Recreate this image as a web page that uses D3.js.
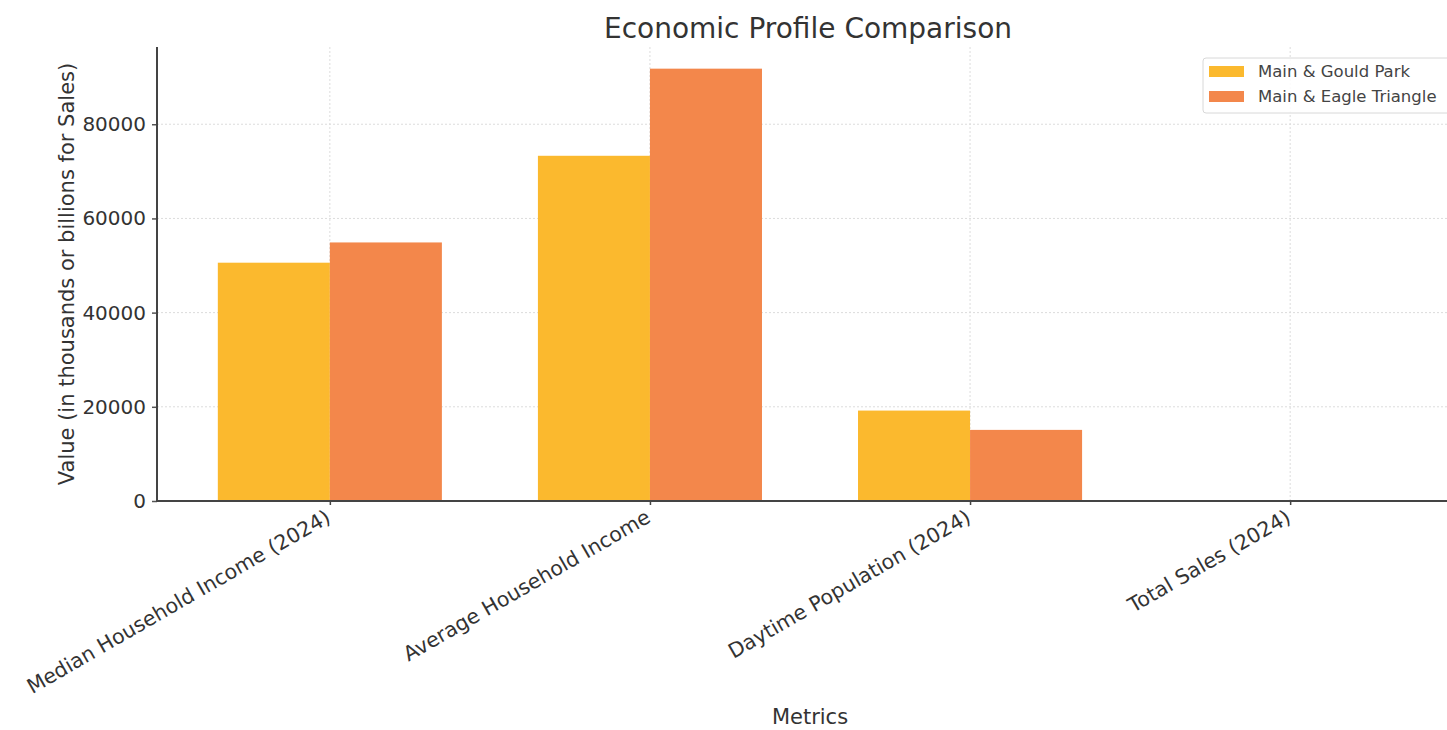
<!DOCTYPE html>
<html><head><meta charset="utf-8">
<script src="https://cdn.jsdelivr.net/npm/d3@7"></script>
<style>
html,body{margin:0;padding:0;background:#fff;overflow:hidden}
svg{display:block;font-family:"DejaVu Sans",sans-serif}
</style></head>
<body>
<svg id="chart" width="1447" height="730"></svg>
<script>
const categories = ["Median Household Income (2024)", "Average Household Income", "Daytime Population (2024)", "Total Sales (2024)"];
const seriesNames = ["Main & Gould Park", "Main & Eagle Triangle"];
const gouldPark = [50600, 73300, 19200, 0.6];
const eagleTriangle = [54900, 91800, 15100, 1.1];
const yTicks = [0, 20000, 40000, 60000, 80000];
const colors = ["#FBB92E", "#F3874B"];

const svg = d3.select("#chart");
const pLeft = 157, pBottom = 501, pTop = 47;
const x = d3.scaleLinear().domain([-0.54, 3.54]).range([pLeft, 1463]);
const y = d3.scaleLinear().domain([0, 96400]).range([pBottom, pTop]);
const barW = 0.35;

// grid
const grid = svg.append("g");
grid.selectAll("line.h").data(yTicks.slice(1)).join("line")
  .attr("x1", pLeft).attr("x2", 1447).attr("y1", d => y(d)).attr("y2", d => y(d))
  .attr("stroke", "#dcdcdc").attr("stroke-width", 1).attr("stroke-dasharray", "2,2");
grid.selectAll("line.v").data(categories.map((c, i) => i)).join("line")
  .attr("x1", d => x(d)).attr("x2", d => x(d)).attr("y1", pTop).attr("y2", pBottom)
  .attr("stroke", "#dcdcdc").attr("stroke-width", 1).attr("stroke-dasharray", "2,2");

// bars
const series = [gouldPark, eagleTriangle];
series.forEach((vals, s) => {
  svg.append("g").selectAll("rect").data(vals).join("rect")
    .attr("x", (d, i) => x(i + (s === 0 ? -barW : 0)))
    .attr("width", x(barW) - x(0))
    .attr("y", d => y(d))
    .attr("height", d => y(0) - y(d))
    .attr("fill", colors[s]);
});

// y axis
const yAxis = svg.append("g").attr("transform", `translate(${pLeft},0)`)
  .call(d3.axisLeft(y).tickValues(yTicks).tickFormat(d3.format("d")).tickSize(5).tickPadding(6));
yAxis.select(".domain").remove();
yAxis.selectAll(".tick line").attr("stroke", "#555").attr("stroke-width", 1.5);
yAxis.selectAll(".tick text").attr("font-size", 20).attr("fill", "#333").attr("font-family", "DejaVu Sans");
svg.append("line").attr("x1", pLeft).attr("x2", pLeft).attr("y1", pTop).attr("y2", pBottom + 1)
  .attr("stroke", "#444").attr("stroke-width", 2);

// x axis
const xAxis = svg.append("g").attr("transform", `translate(0,${pBottom})`)
  .call(d3.axisBottom(x).tickValues(categories.map((c, i) => i)).tickFormat(i => categories[i]).tickSize(4).tickPadding(8));
xAxis.select(".domain").remove();
xAxis.selectAll(".tick line").attr("stroke", "#444").attr("stroke-width", 1.5);
xAxis.selectAll(".tick text")
  .attr("font-size", 20.5).attr("fill", "#333").attr("font-family", "DejaVu Sans")
  .attr("text-anchor", "end").attr("dy", "0.35em")
  .attr("transform", "translate(-2,14) rotate(-30)").attr("y", 0).attr("x", 0);
svg.append("line").attr("x1", pLeft - 1).attr("x2", 1447).attr("y1", pBottom).attr("y2", pBottom)
  .attr("stroke", "#444").attr("stroke-width", 2);

// titles
svg.append("text").attr("x", 808).attr("y", 38).attr("text-anchor", "middle")
  .attr("font-size", 28).attr("fill", "#333").text("Economic Profile Comparison");
svg.append("text").attr("x", 810).attr("y", 724).attr("text-anchor", "middle")
  .attr("font-size", 21).attr("fill", "#333").text("Metrics");
svg.append("text").attr("transform", `translate(74,${(pTop + pBottom) / 2}) rotate(-90)`)
  .attr("text-anchor", "middle").attr("font-size", 21).attr("fill", "#333")
  .text("Value (in thousands or billions for Sales)");

// legend
const lg = svg.append("g").attr("transform", "translate(1203,58)");
lg.append("rect").attr("x", 0).attr("y", 0).attr("width", 260).attr("height", 55).attr("rx", 3)
  .attr("fill", "#fff").attr("fill-opacity", 0.85).attr("stroke", "#d8d8d8");
seriesNames.forEach((n, i) => {
  lg.append("rect").attr("x", 6).attr("y", 8 + i * 25).attr("width", 35).attr("height", 11).attr("fill", colors[i]);
  lg.append("text").attr("x", 55).attr("y", 19 + i * 25).attr("font-size", 16.5).attr("fill", "#444").text(n);
});
</script>
</body></html>
